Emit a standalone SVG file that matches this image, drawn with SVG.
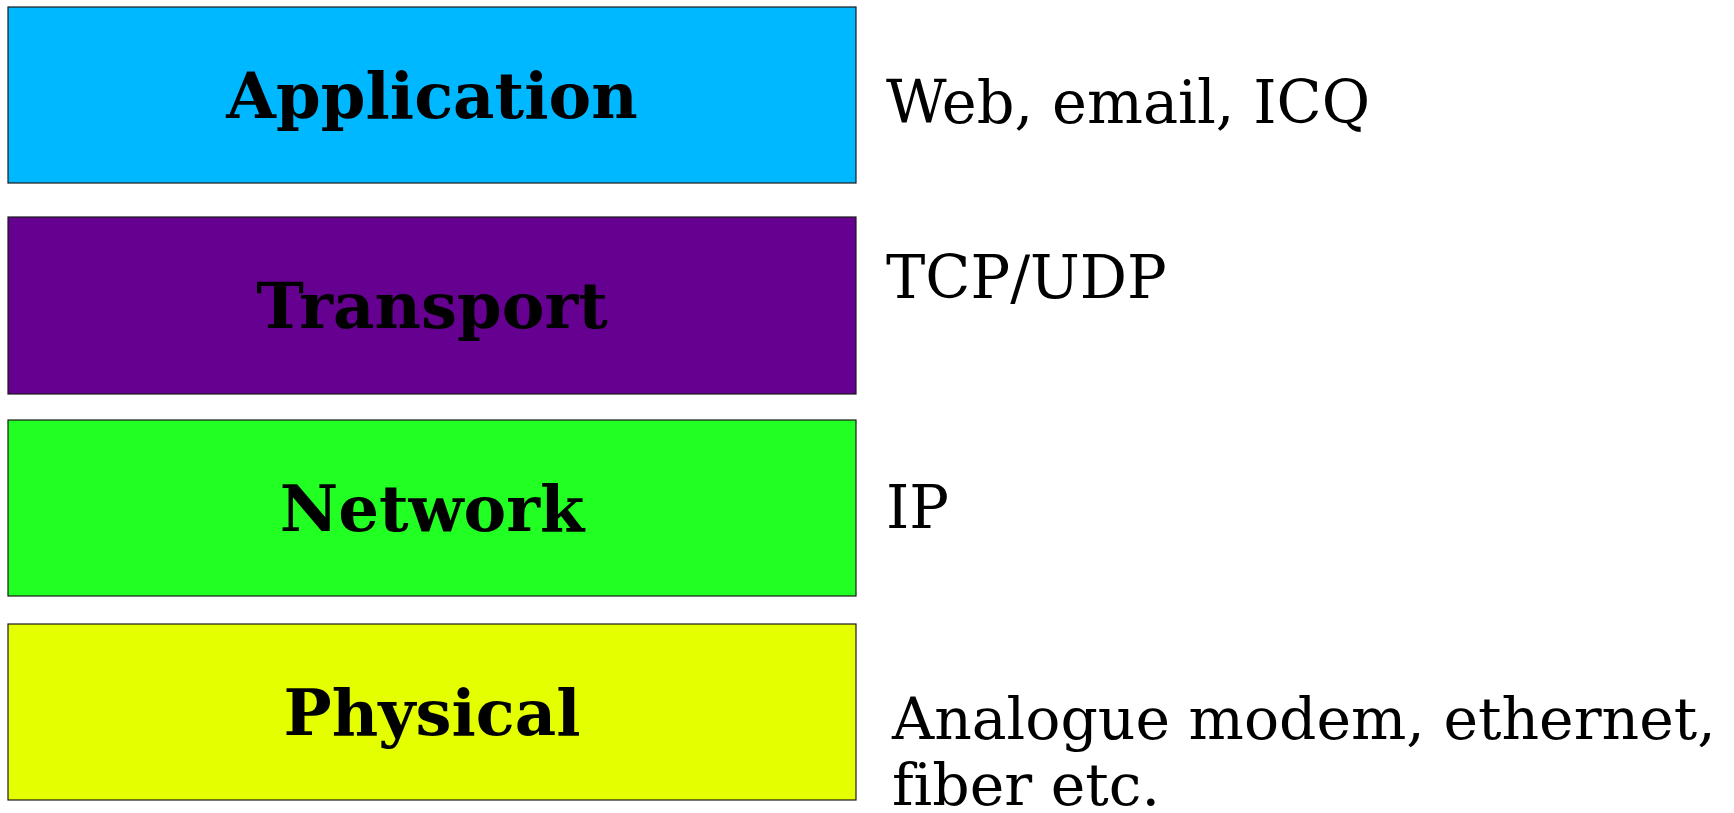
<svg xmlns="http://www.w3.org/2000/svg" width="1734" height="813" viewBox="0 0 1734 813">
  <style>
    .layer { stroke: #1a1a1a; stroke-width: 1.2; }
    .name { font-family: "DejaVu Serif", "Liberation Serif", serif; font-weight: bold; font-size: 64px; text-anchor: middle; fill: #000; }
    .note { font-family: "DejaVu Serif", "Liberation Serif", serif; font-size: 59px; fill: #000; font-variant-ligatures: none; }
    .note.small { font-size: 58.4px; }
  </style>
  <rect width="1734" height="813" fill="#ffffff"/>

  <!-- protocol stack layers -->
  <g id="application">
    <rect class="layer" x="8" y="7" width="848" height="176" fill="#00b8ff"/>
    <text class="name" x="432" y="118">Application</text>
  </g>
  <g id="transport">
    <rect class="layer" x="8" y="217" width="848" height="177" fill="#660090"/>
    <text class="name" x="432" y="328">Transport</text>
  </g>
  <g id="network">
    <rect class="layer" x="8" y="420" width="848" height="176" fill="#22ff22"/>
    <text class="name" x="432" y="531">Network</text>
  </g>
  <g id="physical">
    <rect class="layer" x="8" y="624" width="848" height="176" fill="#e4ff00"/>
    <text class="name" x="432" y="735">Physical</text>
  </g>

  <!-- example protocols per layer -->
  <g id="examples">
    <text class="note" x="886" y="123">Web, email, ICQ</text>
    <text class="note" x="886" y="298">TCP/UDP</text>
    <text class="note" x="886" y="528">IP</text>
    <text class="note small" x="892" y="739">Analogue modem, ethernet,</text>
    <text class="note small" x="892" y="805">fiber etc.</text>
  </g>

  <g id="connectors"/>
</svg>
